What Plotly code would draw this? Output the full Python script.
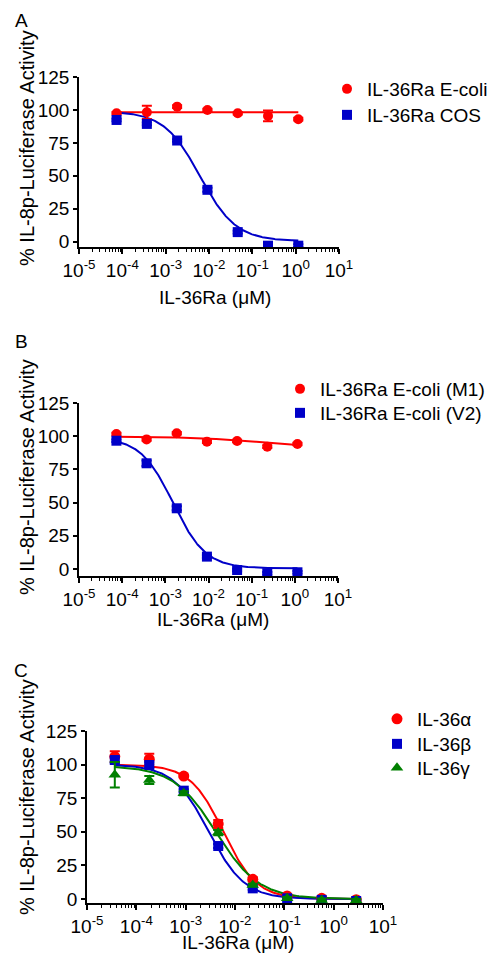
import numpy as np
import plotly.graph_objects as go

# ---------------- data ----------------
conc_AB = [7.36e-5, 3.68e-4, 1.84e-3, 9.2e-3, 0.046, 0.23, 1.15]

A_ecoli = [97.5, 98.2, 102.5, 100.0, 97.5, 95.5, 93.0]
A_ecoli_err = [1.0, 5.0, 1.0, 1.0, 1.0, 4.0, 1.0]
A_cos = [92.4, 89.4, 76.8, 39.4, 7.3, -3.0, -3.0]
A_cos_err = [1.0, 1.0, 1.0, 1.5, 1.0, 1.0, 1.0]

B_m1 = [101.6, 97.6, 102.2, 95.9, 96.4, 92.1, 94.1]
B_m1_err = [1.0, 1.0, 1.0, 1.0, 1.0, 1.0, 1.0]
B_v2 = [96.6, 79.6, 45.7, 9.3, -0.8, -3.2, -2.5]
B_v2_err = [1.0, 2.0, 1.5, 1.0, 1.0, 1.0, 1.0]

conc_C = [3.66e-5, 1.83e-4, 9.15e-4, 4.57e-3, 0.0229, 0.114, 0.572, 2.86]
C_alpha = [106.0, 104.0, 91.5, 55.8, 14.6, 2.2, 0.5, -0.5]
C_alpha_err = [4.0, 4.0, 1.0, 3.0, 1.5, 1.0, 1.0, 1.0]
C_beta = [103.4, 99.7, 80.6, 39.4, 7.9, 0.5, -0.7, -1.5]
C_beta_err = [2.0, 2.0, 1.0, 1.5, 1.0, 1.0, 1.0, 1.0]
C_gamma = [92.5, 88.5, 78.6, 49.4, 10.4, 0.5, -0.7, -1.0]
C_gamma_err = [9.5, 3.0, 1.5, 2.0, 1.0, 1.0, 1.0, 1.0]

# 4-parameter logistic fit parameters: [top, bottom, IC50 (uM), hill]
fit_A_ecoli = [98.2, 98.2, 0.01, 1.0]
fit_A_cos = [99.0, 0.5, 6.2e-3, 1.05]
fit_B_m1 = [99.7, 90.0, 0.3, 0.5]
fit_B_v2 = [99.0, 0.5, 1.51e-3, 1.15]
fit_C_alpha = [100.0, 0.0, 5.8e-3, 1.285]
fit_C_beta = [100.0, 0.0, 2.95e-3, 1.2]
fit_C_gamma = [99.0, 0.0, 4.17e-3, 1.0]

decades = [-5, -4, -3, -2, -1, 0, 1]
y_ticks = [0, 25, 50, 75, 100, 125]

legend_A = ["IL-36Ra E-coli", "IL-36Ra COS"]
legend_B = ["IL-36Ra E-coli (M1)", "IL-36Ra E-coli (V2)"]
legend_C = ["IL-36\u03b1", "IL-36\u03b2", "IL-36\u03b3"]
panel_letters = ["A", "B", "C"]
y_title = "% IL-8p-Luciferase Activity"
x_title = "IL-36Ra (\u03bcM)"

# ---------------- style ----------------
W, H = 499, 954
FONT = "Liberation Sans, Arial, sans-serif"
FS = 19
RED, BLUE, GREEN = "#FF0000", "#0000C8", "#008000"


def px_x(p):
    return p / W


def px_y(p):
    return 1 - p / H


def curve(conc, params):
    top, bottom, ic50, hill = params
    xs = np.logspace(np.log10(conc[0]), np.log10(conc[-1]), 300)
    ys = bottom + (top - bottom) / (1 + (xs / ic50) ** hill)
    return xs, ys


fig = go.Figure()

# legend boxes (left px, top px) for each entry
legend_boxes = [(327, 70), (327, 96), (280, 370), (280, 394), (377, 700), (377, 725), (377, 749)]

panels = [
    ("", conc_AB, [
        (legend_A[0], A_ecoli, A_ecoli_err, fit_A_ecoli, RED, "circle", 10),
        (legend_A[1], A_cos, A_cos_err, fit_A_cos, BLUE, "square", 10),
    ]),
    ("2", conc_AB, [
        (legend_B[0], B_m1, B_m1_err, fit_B_m1, RED, "circle", 10),
        (legend_B[1], B_v2, B_v2_err, fit_B_v2, BLUE, "square", 10),
    ]),
    ("3", conc_C, [
        (legend_C[0], C_alpha, C_alpha_err, fit_C_alpha, RED, "circle", 11),
        (legend_C[1], C_beta, C_beta_err, fit_C_beta, BLUE, "square", 10),
        (legend_C[2], C_gamma, C_gamma_err, fit_C_gamma, GREEN, "triangle-up", 11),
    ]),
]

leg_index = 0
for suffix, conc, series in panels:
    xa, ya = "x" + suffix, "y" + suffix
    for name, vals, errs, params, color, sym, size in series:
        cx, cy = curve(conc, params)
        fig.add_trace(go.Scatter(x=cx, y=cy, mode="lines", xaxis=xa, yaxis=ya,
                                 line=dict(color=color, width=2), showlegend=False,
                                 hoverinfo="skip"))
    for name, vals, errs, params, color, sym, size in series:
        leg_index += 1
        leg = "legend" if leg_index == 1 else "legend%d" % leg_index
        fig.add_trace(go.Scatter(x=conc, y=vals, mode="markers", name=name,
                                 xaxis=xa, yaxis=ya, legend=leg,
                                 marker=dict(color=color, symbol=sym, size=size),
                                 error_y=dict(type="data", array=errs, color=color,
                                              thickness=2, width=5)))

ticktext = ["10<sup>%d</sup>" % d for d in decades]
minor_vals = [m * 10.0 ** d for d in decades[:-1] for m in range(2, 10)]

axis_common = dict(showline=True, linecolor="black", linewidth=1.5, showgrid=False,
                   zeroline=False, ticks="outside", tickcolor="black", tickwidth=1.5,
                   automargin=False,
                   tickfont=dict(family=FONT, size=FS, color="black"))

# pixel boxes: (x0, x1, ytop, ybottom, yrange)
boxes = [
    (79, 339, 77, 247, [-4, 125]),
    (79, 338, 403, 576, [-5.3, 125]),
    (87, 383, 731, 903, [-3, 125]),
]

layout = dict(width=W, height=H, margin=dict(l=0, r=0, t=0, b=0, autoexpand=False),
              paper_bgcolor="white", plot_bgcolor="white",
              font=dict(family=FONT, size=FS, color="black"))

for i, (x0, x1, yt, yb, yr) in enumerate(boxes):
    s = "" if i == 0 else str(i + 1)
    layout["xaxis" + s] = dict(axis_common, type="log", range=[decades[0], decades[-1]],
                               domain=[px_x(x0), px_x(x1)], anchor="y" + s,
                               tickmode="array", tickvals=[10.0 ** d for d in decades],
                               ticktext=ticktext, ticklen=5,
                               minor=dict(tickmode="array", tickvals=minor_vals,
                                          ticks="outside", ticklen=3, tickwidth=1,
                                          tickcolor="black", showgrid=False))
    layout["yaxis" + s] = dict(axis_common, range=yr, domain=[px_y(yb), px_y(yt)],
                               anchor="x" + s, tickmode="array", tickvals=y_ticks,
                               ticklen=4)

leg_common = dict(font=dict(family=FONT, size=FS, color="black"), bgcolor="rgba(0,0,0,0)",
                  xanchor="left", yanchor="top", itemwidth=30, tracegroupgap=0)
for k, (lx, ly) in enumerate(legend_boxes):
    key = "legend" if k == 0 else "legend%d" % (k + 1)
    layout[key] = dict(leg_common, x=px_x(lx), y=px_y(ly))

annotations = []
letter_pos = [(21, 21), (21, 342), (21, 670)]
ytitle_pos = [(27, 148), (27, 477), (27, 797)]
xtitle_pos = [(215, 297), (213, 619), (238, 942)]
for i in range(3):
    lx, ly = letter_pos[i]
    annotations.append(dict(text=panel_letters[i], x=px_x(lx), y=px_y(ly), xref="paper",
                            yref="paper", showarrow=False, xanchor="center", yanchor="middle",
                            font=dict(family=FONT, size=FS, color="black")))
    tx, ty = ytitle_pos[i]
    annotations.append(dict(text=y_title, x=px_x(tx), y=px_y(ty), xref="paper",
                            yref="paper", showarrow=False, textangle=-90,
                            xanchor="center", yanchor="middle",
                            font=dict(family=FONT, size=20, color="black")))
    xx, xy = xtitle_pos[i]
    annotations.append(dict(text=x_title, x=px_x(xx), y=px_y(xy), xref="paper",
                            yref="paper", showarrow=False, xanchor="center", yanchor="middle",
                            font=dict(family=FONT, size=FS, color="black")))
layout["annotations"] = annotations

fig.update_layout(**layout)
fig.write_html("out.html", config={"displayModeBar": False},
               post_script="document.body.style.margin='0px';"
                           "document.body.style.overflow='hidden';")
